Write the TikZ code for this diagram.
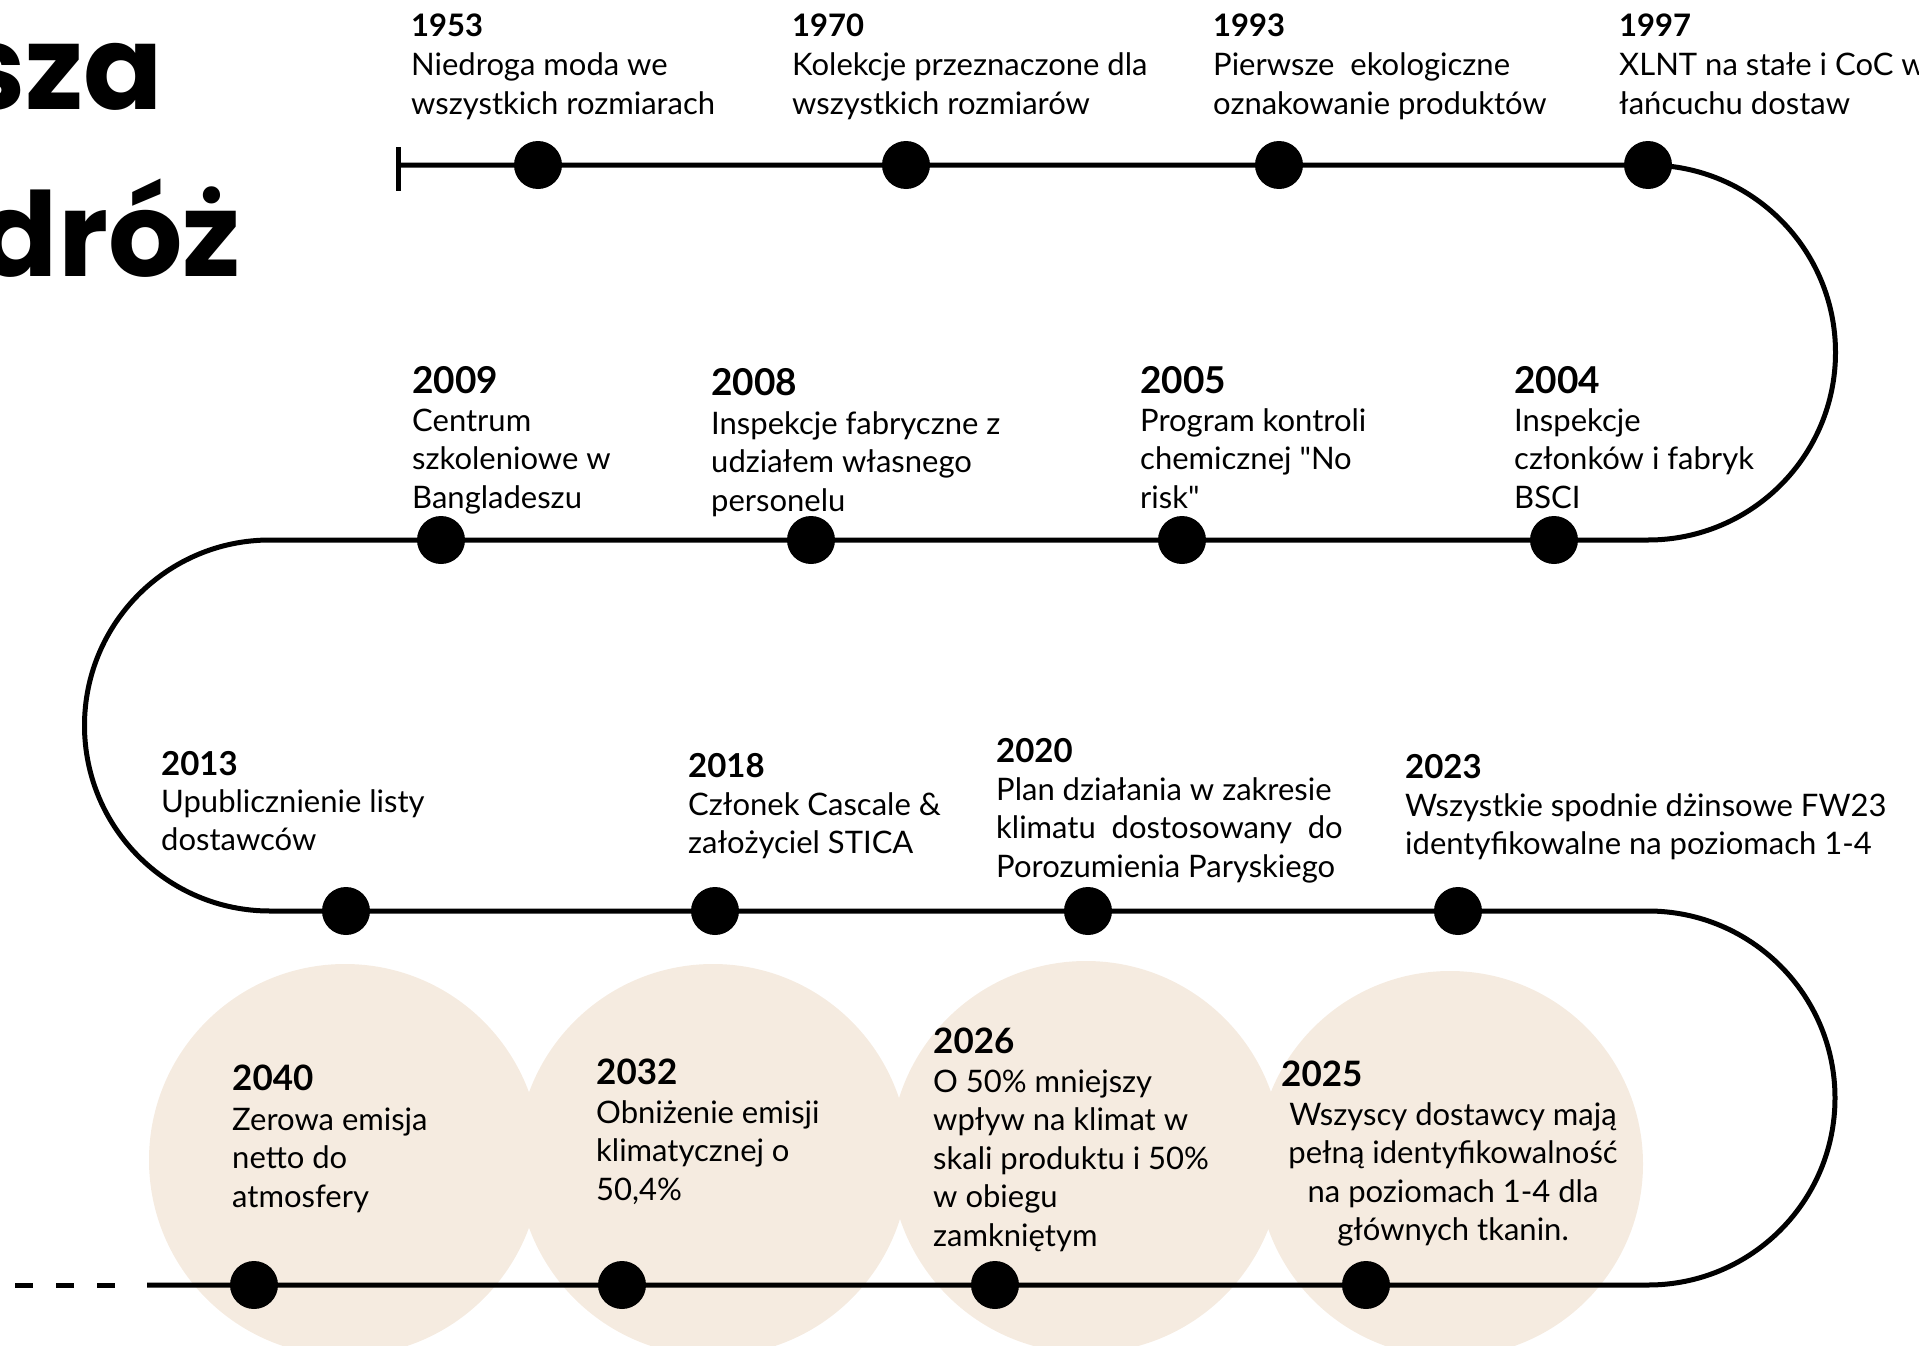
\documentclass[tikz,border=0pt]{standalone}
\usepackage{fontspec}
\setmainfont{Lato}[Ligatures=TeXOff]
\newfontfamily\titre{Poppins}
\definecolor{beige}{RGB}{245,235,224}
\tikzset{
  ligne/.style={line width=5pt, black},
  point/.style={circle, fill=black, inner sep=0pt, minimum size=48pt},
  bulle/.style={circle, fill=beige, inner sep=0pt, minimum size=#1},
  bulle/.default=392pt,
  annee/.style={anchor=base west, inner sep=0pt, font=\bfseries\fontsize{#1}{#1}\selectfont},
  annee/.default=31,
  texte/.style={anchor=base west, inner sep=0pt, align=left, font=\fontsize{31}{38.6}\selectfont},
  grand/.style={anchor=base east, inner sep=0pt, font=\titre\bfseries\fontsize{117}{117}\selectfont},
}
\begin{document}
\begin{tikzpicture}[x=1pt,y=-1pt]  % ------ Notre parcours -------------------
    \useasboundingbox (0,0) rectangle (1919,1346);
    \clip (0,0) rectangle (1919,1346);

    % bulles des objectifs
    \node[bulle] (b2040) at (345,1160) {};
    \node[bulle] (b2032) at (713,1160) {};
    \node[bulle] (b2026) at (1086,1157) {};
    \node[bulle=386pt] (b2025) at (1450,1164) {};

    \coordinate (debut) at (398,165);
    \coordinate (R1) at (1648,165);   % virage droit haut
    \coordinate (L2) at (270,540);    % virage gauche
    \coordinate (R3) at (1648,911);   % virage droit bas
    \coordinate (fin) at (147,1285);

    \draw[ligne] (398,147) -- (398,191) ;
    \draw[ligne] (debut) -- (R1) arc[start angle=-90, end angle=90, radius=187.5]
        -- (L2) arc[start angle=270, end angle=90, radius=185.5]
        -- (R3) arc[start angle=-90, end angle=90, radius=187]
        -- (fin) ;
    \draw[ligne, dash pattern=on 18pt off 23pt] (15,1285) -- (116,1285) ; % suite

    % les points
    \node[point] (d1953) at (538,165) {};
    \node[point] (d1970) at (906,165) {};
    \node[point] (d1993) at (1279,165) {};
    \node[point] (d1997) at (R1) {};
    \node[point] (d2004) at (1554,540) {};
    \node[point] (d2005) at (1182,540) {};
    \node[point] (d2008) at (811,540) {};
    \node[point] (d2009) at (441,540) {};
    \node[point] (d2013) at (346,911) {};
    \node[point] (d2018) at (715,911) {};
    \node[point] (d2020) at (1088,911) {};
    \node[point] (d2023) at (1458,911) {};
    \node[point] (d2025) at (1366,1285) {};
    \node[point] (d2026) at (995,1285) {};
    \node[point] (d2032) at (622,1285) {};
    \node[point] (d2040) at (254,1285) {};

    % titre
    \node[grand] (titre1) at (163,109) {sza};
    \node[grand] (titre2) at (241,276) {dróż};

    % ligne 1  (texte : base de la derniere ligne)
    \node[annee] (a1953) at (411,37) {1953};
    \node[texte] (t1953) at (411,114.6) {Niedroga moda we\\wszystkich rozmiarach};
    \node[annee] (a1970) at (792,37) {1970};
    \node[texte] (t1970) at (792,114.6) {Kolekcje przeznaczone dla\\wszystkich rozmiarów};
    \node[annee] (a1993) at (1213,37) {1993};
    \node[texte] (t1993) at (1213,114.6) {Pierwsze\ \ ekologiczne\\oznakowanie produktów};
    \node[annee] (a1997) at (1619,37) {1997};
    \node[texte] (t1997) at (1619,114.6) {XLNT na stałe i CoC w\\łańcuchu dostaw};

    % ligne 2
    \node[annee=37] (a2009) at (412,393) {2009};
    \node[texte] (t2009) at (412,508.2) {Centrum\\szkoleniowe w\\Bangladeszu};
    \node[annee=37] (a2008) at (711,395) {2008};
    \node[texte] (t2008) at (711,511.2) {Inspekcje fabryczne z\\udziałem własnego\\personelu};
    \node[annee=37] (a2005) at (1140,393) {2005};
    \node[texte] (t2005) at (1140,508.2) {Program kontroli\\chemicznej "No\\risk"};
    \node[annee=37] (a2004) at (1514,393) {2004};
    \node[texte] (t2004) at (1514,508.2) {Inspekcje\\członków i fabryk\\BSCI};

    % ligne 3
    \node[annee=33] (a2013) at (161,775) {2013};
    \node[texte] (t2013) at (161,850.6) {Upublicznienie listy\\dostawców};
    \node[annee=33] (a2018) at (688,777) {2018};
    \node[texte] (t2018) at (688,853.6) {Członek Cascale \&\\założyciel STICA};
    \node[annee=33] (a2020) at (996,762) {2020};
    \node[texte] (t2020) at (996,877.2) {Plan działania w zakresie\\klimatu\ \ dostosowany\ \ do\\Porozumienia Paryskiego};
    \node[annee=33] (a2023) at (1405,778) {2023};
    \node[texte] (t2023) at (1405,854.6) {Wszystkie spodnie dżinsowe FW23\\identyfikowalne na poziomach 1-4};

    % ligne 4
    \node[annee=35] (a2040) at (232,1090) {2040};
    \node[texte] (t2040) at (232,1207.2) {Zerowa emisja\\netto do\\atmosfery};
    \node[annee=35] (a2032) at (596,1084) {2032};
    \node[texte] (t2032) at (596,1200.2) {Obniżenie emisji\\klimatycznej o\\50,4\%};
    \node[annee=35] (a2026) at (933,1053) {2026};
    \node[texte] (t2026) at (933,1246.4) {O 50\% mniejszy\\wpływ na klimat w\\skali produktu i 50\%\\w obiegu\\zamkniętym};
    \node[annee=35] (a2025) at (1281,1086) {2025};
    \node[texte, anchor=base, align=center] (t2025) at (1453,1240.8) {Wszyscy dostawcy mają\\pełną identyfikowalność\\na poziomach 1-4 dla\\głównych tkanin.};
\end{tikzpicture}
\end{document}
